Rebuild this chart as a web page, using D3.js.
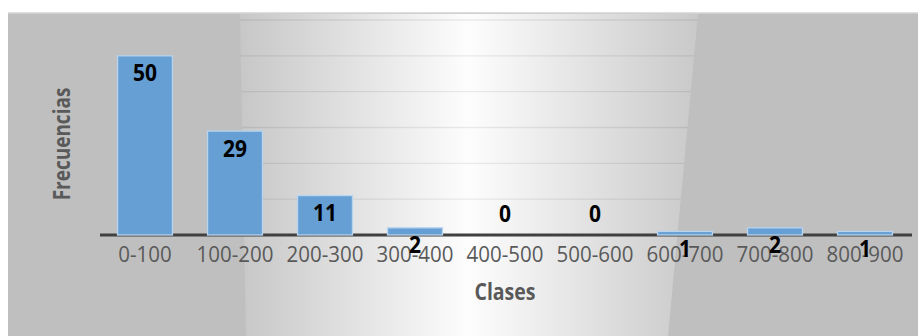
<!DOCTYPE html>
<html>
<head>
<meta charset="utf-8">
<script src="https://cdn.jsdelivr.net/npm/d3@7/dist/d3.min.js"></script>
<style>
  html, body { margin: 0; padding: 0; background: #fff; }
  svg { display: block; }
</style>
</head>
<body>
<svg id="chart" width="918" height="336"></svg>
<script>
// Frequency table: class intervals and their counts
const classes = ["0-100", "100-200", "200-300", "300-400", "400-500", "500-600", "600-700", "700-800", "800-900"];
const frequencies = [50, 29, 11, 2, 0, 0, 1, 2, 1];
const gridValues = [10, 20, 30, 40, 50, 60];

const W = 918, H = 336;
const svg = d3.select("#chart");
const font = "'Open Sans', 'Noto Sans', sans-serif";

const x = d3.scaleBand().domain(classes).range([100, 910]).paddingInner(0.39).paddingOuter(0.195);
const y = d3.scaleLinear().domain([0, 60]).range([235, 20]);

// chart area background
svg.append("rect").attr("x", 8).attr("y", 13).attr("width", W - 8).attr("height", H - 13)
  .attr("fill", "#bfbfbf");
svg.append("line").attr("x1", 8).attr("x2", W).attr("y1", 13).attr("y2", 13)
  .attr("stroke", "#d4d4d4").attr("stroke-width", 1.5);

// light band across the middle of the plot
const defs = svg.append("defs");
const grad = defs.append("linearGradient").attr("id", "band")
  .attr("gradientUnits", "userSpaceOnUse")
  .attr("x1", 240).attr("y1", 0).attr("x2", 698).attr("y2", 0);
grad.append("stop").attr("offset", 0).attr("stop-color", "#c7c7c7");
grad.append("stop").attr("offset", 0.5).attr("stop-color", "#fdfdfd");
grad.append("stop").attr("offset", 1).attr("stop-color", "#c9c9c9");
const bandPts = [[240, 14], [698, 14], [668, 336], [246, 336]];
defs.append("clipPath").attr("id", "bandClip")
  .append("polygon").attr("points", bandPts.map(p => p.join(",")).join(" "));
svg.append("polygon").attr("points", bandPts.map(p => p.join(",")).join(" "))
  .attr("fill", "url(#band)");

// horizontal gridlines (only show on the light band)
svg.append("g").attr("clip-path", "url(#bandClip)")
  .selectAll("line").data(gridValues).join("line")
  .attr("x1", 100).attr("x2", 912)
  .attr("y1", d => y(d)).attr("y2", d => y(d))
  .attr("stroke", "rgba(0,0,0,0.075)").attr("stroke-width", 1.4);

// category axis
const xAxis = svg.append("g").attr("transform", `translate(0,${y(0)})`)
  .call(d3.axisBottom(x).tickSize(0).tickPadding(0));
xAxis.select(".domain").remove();
xAxis.append("line").attr("x1", 100).attr("x2", 912).attr("y1", 0).attr("y2", 0)
  .attr("stroke", "#404040").attr("stroke-width", 3.2);
xAxis.selectAll(".tick text")
  .attr("fill", "#595959").attr("font-family", font).attr("font-size", 20.5)
  .attr("dy", 0).attr("y", 0)
  .attr("transform", "translate(0,27) scale(1,1.1)");

// bars
svg.append("g").selectAll("rect").data(frequencies).join("rect")
  .attr("x", (d, i) => x(classes[i]))
  .attr("width", x.bandwidth())
  .attr("y", d => y(d))
  .attr("height", d => y(0) - y(d))
  .attr("fill", "#659fd4")
  .attr("stroke", "#b9d4ee").attr("stroke-width", 1.3)
  .attr("display", d => d > 0 ? null : "none");

// value labels
svg.append("g").selectAll("g").data(frequencies).join("g")
  .attr("transform", (d, i) => `translate(${x(classes[i]) + x.bandwidth() / 2},${d > 0 ? y(d) + 25.5 : y(0) - 13}) scale(1,1.08)`)
  .append("text")
  .attr("text-anchor", "middle")
  .attr("font-family", font).attr("font-weight", 700).attr("font-size", 21)
  .attr("fill", "#000")
  .text(d => d);

// axis titles
svg.append("g").attr("transform", "translate(505,300) scale(1,1.18)")
  .append("text").attr("text-anchor", "middle")
  .attr("font-family", font).attr("font-weight", 700).attr("font-size", 19.5)
  .attr("fill", "#595959").text("Clases");

svg.append("g").attr("transform", "translate(70,144) rotate(-90) scale(1,1.18)")
  .append("text").attr("text-anchor", "middle")
  .attr("font-family", font).attr("font-weight", 700).attr("font-size", 19)
  .attr("fill", "#595959").text("Frecuencias");
</script>
</body>
</html>
